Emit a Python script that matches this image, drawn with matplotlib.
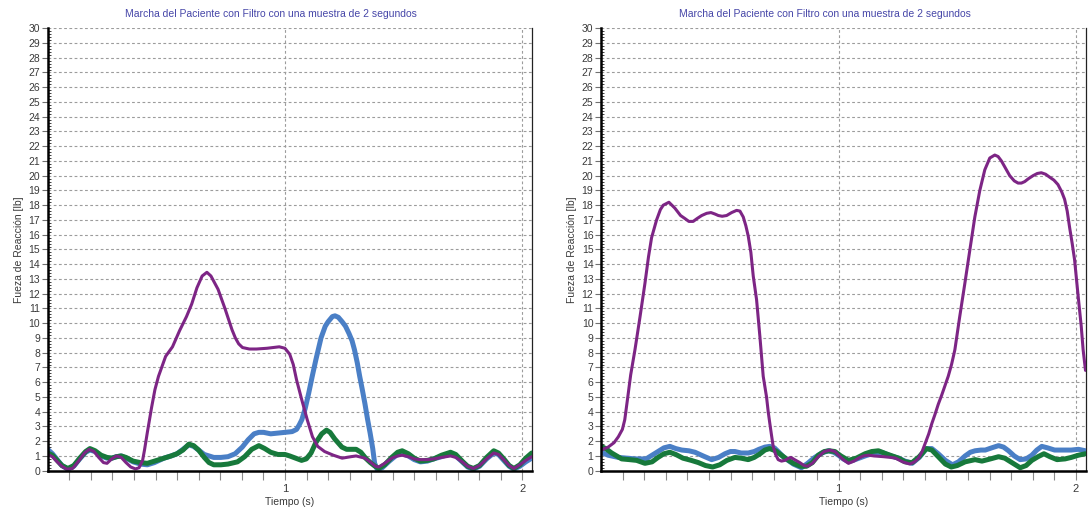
import numpy as np
import matplotlib
matplotlib.use("Agg")
import matplotlib.pyplot as plt
from matplotlib.ticker import FixedLocator, MultipleLocator

plt.rcParams['font.family'] = ['Liberation Sans', 'DejaVu Sans']

TITLE = "Marcha del Paciente con Filtro con una muestra de 2 segundos"
XLABEL = "Tiempo (s)"
YLABEL = "Fueza de Reacción [lb]"

# ---------------- left panel ----------------
left_blue_t = [0.00, 0.02, 0.04, 0.06, 0.085, 0.11, 0.135, 0.16, 0.178, 0.20, 0.225, 0.25, 0.27, 0.29,
               0.31, 0.33, 0.36, 0.39, 0.42, 0.45, 0.49, 0.52, 0.545, 0.57, 0.595, 0.615, 0.636, 0.66,
               0.68, 0.70, 0.73, 0.76, 0.79, 0.82, 0.845, 0.87, 0.89, 0.91, 0.94, 0.97, 1.00, 1.03,
               1.049, 1.06, 1.071, 1.085, 1.10, 1.115, 1.13, 1.152, 1.17, 1.182, 1.20, 1.211, 1.225,
               1.241, 1.255, 1.27, 1.283, 1.293, 1.305, 1.315, 1.326, 1.337, 1.348, 1.359, 1.37, 1.378,
               1.39, 1.41, 1.44, 1.47, 1.494, 1.52, 1.545, 1.571, 1.60, 1.627, 1.66, 1.698, 1.72, 1.747,
               1.77, 1.794, 1.82, 1.85, 1.88, 1.90, 1.925, 1.945, 1.965, 1.99, 2.015, 2.04]
left_blue_v = [1.45, 1.15, 0.75, 0.35, 0.10, 0.30, 0.80, 1.25, 1.40, 1.30, 1.00, 0.85, 0.85, 0.95,
               1.00, 0.85, 0.60, 0.45, 0.40, 0.55, 0.85, 1.00, 1.15, 1.45, 1.75, 1.65, 1.40, 1.10,
               1.00, 0.90, 0.90, 0.95, 1.15, 1.60, 2.10, 2.50, 2.60, 2.60, 2.50, 2.55, 2.60, 2.65,
               2.80, 3.10, 3.45, 4.20, 5.25, 6.40, 7.50, 9.00, 9.80, 10.10, 10.45, 10.50, 10.40,
               10.10, 9.80, 9.30, 8.80, 8.20, 7.30, 6.40, 5.50, 4.55, 3.50, 2.55, 1.50, 0.50,
               0.05, 0.20, 0.65, 1.05, 1.15, 1.00, 0.75, 0.60, 0.65, 0.80, 0.95, 1.15, 1.00, 0.60,
               0.25, 0.10, 0.30, 0.80, 1.20, 1.10, 0.65, 0.30, 0.10, 0.30, 0.60, 0.85]

left_green_t = [0.00, 0.02, 0.04, 0.06, 0.085, 0.11, 0.135, 0.16, 0.178, 0.20, 0.225, 0.25, 0.27, 0.29,
                0.31, 0.33, 0.36, 0.39, 0.42, 0.45, 0.49, 0.52, 0.545, 0.57, 0.595, 0.615, 0.636, 0.66,
                0.68, 0.70, 0.73, 0.76, 0.80, 0.83, 0.86, 0.89, 0.915, 0.94, 0.97, 1.00, 1.02, 1.045,
                1.07, 1.09, 1.11, 1.13, 1.155, 1.175, 1.19, 1.21, 1.24, 1.26, 1.28, 1.30, 1.32, 1.34,
                1.36, 1.38, 1.395, 1.42, 1.45, 1.475, 1.494, 1.52, 1.545, 1.571, 1.60, 1.627, 1.66,
                1.698, 1.72, 1.747, 1.77, 1.794, 1.82, 1.85, 1.88, 1.90, 1.925, 1.945, 1.965, 1.99,
                2.015, 2.04]
left_green_v = [1.20, 1.05, 0.70, 0.35, 0.15, 0.35, 0.85, 1.30, 1.50, 1.35, 1.05, 0.90, 0.85, 0.95,
                1.00, 0.90, 0.65, 0.55, 0.50, 0.65, 0.85, 1.00, 1.15, 1.40, 1.80, 1.70, 1.40, 0.90,
                0.55, 0.40, 0.40, 0.45, 0.60, 0.95, 1.45, 1.70, 1.50, 1.25, 1.10, 1.10, 1.00, 0.85,
                0.70, 0.80, 1.20, 1.90, 2.50, 2.75, 2.60, 2.15, 1.60, 1.45, 1.45, 1.45, 1.25, 0.85,
                0.55, 0.30, 0.15, 0.40, 0.90, 1.25, 1.35, 1.15, 0.85, 0.65, 0.70, 0.80, 1.05,
                1.25, 1.10, 0.65, 0.30, 0.15, 0.35, 0.90, 1.35, 1.20, 0.75, 0.35, 0.15, 0.40,
                0.85, 1.20]

left_purple_t = [0.00, 0.02, 0.04, 0.06, 0.08, 0.105, 0.13, 0.155, 0.175, 0.195, 0.215, 0.235, 0.25,
                 0.27, 0.29, 0.31, 0.33, 0.35, 0.37, 0.385, 0.40, 0.408, 0.42, 0.438, 0.452, 0.467,
                 0.497, 0.526, 0.556, 0.585, 0.607, 0.629, 0.651, 0.671, 0.688, 0.718, 0.747, 0.777,
                 0.791, 0.805, 0.821, 0.85, 0.88, 0.924, 0.976, 1.00, 1.02, 1.035, 1.049, 1.071, 1.094,
                 1.116, 1.138, 1.167, 1.204, 1.241, 1.278, 1.30, 1.337, 1.359, 1.381, 1.395, 1.42,
                 1.45, 1.475, 1.494, 1.52, 1.545, 1.571, 1.60, 1.627, 1.66, 1.698, 1.72, 1.747, 1.77,
                 1.794, 1.82, 1.85, 1.88, 1.90, 1.925, 1.945, 1.965, 1.99, 2.015, 2.04]
left_purple_v = [1.10, 0.95, 0.60, 0.30, 0.10, 0.15, 0.65, 1.20, 1.45, 1.30, 0.90, 0.55, 0.50,
                 0.80, 1.00, 0.90, 0.55, 0.25, 0.12, 0.20, 0.70, 1.40, 2.60, 4.30, 5.50, 6.40,
                 7.75, 8.40, 9.50, 10.45, 11.30, 12.40, 13.20, 13.45, 13.20, 12.30, 11.00, 9.55,
                 9.00, 8.60, 8.35, 8.25, 8.25, 8.30, 8.40, 8.30, 7.90, 7.20, 6.15, 4.80, 3.45,
                 2.30, 1.65, 1.30, 1.05, 0.85, 0.95, 1.00, 0.85, 0.60, 0.30, 0.25, 0.50,
                 0.85, 1.00, 1.05, 0.95, 0.80, 0.75, 0.75, 0.80, 0.90, 1.00, 0.90, 0.60, 0.30,
                 0.15, 0.35, 0.80, 1.20, 1.10, 0.70, 0.35, 0.15, 0.40, 0.70, 0.95]

# ---------------- right panel ----------------
right_blue_t = [0.00, 0.03, 0.073, 0.11, 0.143, 0.19, 0.215, 0.24, 0.265, 0.29, 0.315, 0.34, 0.37,
                0.396, 0.43, 0.466, 0.495, 0.522, 0.545, 0.564, 0.59, 0.62, 0.645, 0.665, 0.69, 0.71,
                0.73, 0.746, 0.77, 0.788, 0.81, 0.844, 0.87, 0.90, 0.93, 0.957, 0.98, 1.00, 1.02,
                1.042, 1.07, 1.112, 1.15, 1.182, 1.22, 1.253, 1.28, 1.31, 1.34, 1.37, 1.393, 1.42,
                1.45, 1.48, 1.505, 1.533, 1.555, 1.575, 1.60, 1.618, 1.645, 1.674, 1.695, 1.716,
                1.74, 1.765, 1.79, 1.814, 1.835, 1.856, 1.88, 1.91, 1.95, 1.98, 2.01, 2.04]
right_blue_v = [1.25, 1.05, 0.90, 0.85, 0.80, 0.80, 1.05, 1.30, 1.55, 1.65, 1.50, 1.40, 1.35,
                1.25, 1.00, 0.75, 0.90, 1.15, 1.30, 1.30, 1.20, 1.20, 1.30, 1.45, 1.60, 1.65,
                1.55, 1.30, 0.90, 0.70, 0.45, 0.20, 0.50, 0.90, 1.20, 1.35, 1.25, 1.05, 0.80,
                0.60, 0.75, 1.00, 1.20, 1.25, 1.00, 0.85, 0.65, 0.50, 0.90, 1.50, 1.50, 1.15,
                0.70, 0.40, 0.60, 1.00, 1.25, 1.35, 1.40, 1.40, 1.55, 1.70, 1.60, 1.35,
                1.00, 0.75, 0.80, 1.05, 1.40, 1.65, 1.55, 1.40, 1.40, 1.40, 1.45, 1.35]

right_green_t = [0.00, 0.02, 0.045, 0.087, 0.12, 0.15, 0.185, 0.215, 0.24, 0.265, 0.29, 0.315, 0.345,
                 0.38, 0.41, 0.44, 0.47, 0.50, 0.53, 0.564, 0.59, 0.62, 0.645, 0.67, 0.69, 0.71,
                 0.735, 0.76, 0.785, 0.81, 0.84, 0.865, 0.89, 0.915, 0.94, 0.96, 0.985, 1.01, 1.042,
                 1.075, 1.112, 1.14, 1.168, 1.20, 1.253, 1.28, 1.31, 1.34, 1.37, 1.393, 1.42, 1.45,
                 1.475, 1.50, 1.533, 1.575, 1.604, 1.64, 1.674, 1.70, 1.73, 1.765, 1.79, 1.814,
                 1.84, 1.865, 1.89, 1.92, 1.954, 1.98, 2.01, 2.04]
right_green_v = [1.65, 1.50, 1.20, 0.80, 0.75, 0.70, 0.50, 0.60, 0.90, 1.15, 1.25, 1.10, 0.85,
                 0.70, 0.55, 0.35, 0.25, 0.40, 0.70, 0.90, 0.85, 0.75, 0.90, 1.15, 1.40, 1.50,
                 1.35, 1.05, 0.75, 0.50, 0.30, 0.30, 0.55, 1.05, 1.30, 1.35, 1.30, 1.00, 0.70,
                 0.85, 1.15, 1.30, 1.35, 1.15, 0.85, 0.60, 0.55, 0.95, 1.50, 1.40, 0.95, 0.45,
                 0.25, 0.35, 0.60, 0.75, 0.65, 0.80, 0.95, 0.85, 0.55, 0.20, 0.35, 0.70,
                 0.95, 1.15, 0.95, 0.75, 0.80, 0.90, 1.05, 1.15]

right_purple_t = [0.00, 0.03, 0.055, 0.073, 0.09, 0.10, 0.112, 0.125, 0.143, 0.164, 0.185, 0.20,
                  0.213, 0.234, 0.25, 0.262, 0.286, 0.311, 0.335, 0.353, 0.37, 0.388, 0.405, 0.424,
                  0.445, 0.463, 0.48, 0.494, 0.51, 0.529, 0.55, 0.571, 0.585, 0.599, 0.61, 0.62,
                  0.631, 0.641, 0.655, 0.669, 0.683, 0.697, 0.704, 0.71, 0.718, 0.725, 0.735, 0.746,
                  0.76, 0.774, 0.79, 0.80, 0.815, 0.837, 0.855, 0.87, 0.89, 0.915, 0.94, 0.964,
                  0.985, 1.00, 1.02, 1.042, 1.065, 1.084, 1.105, 1.126, 1.15, 1.19, 1.22, 1.24,
                  1.27, 1.30, 1.32, 1.337, 1.352, 1.365, 1.38, 1.393, 1.407, 1.42, 1.434, 1.448,
                  1.462, 1.476, 1.49, 1.51, 1.532, 1.553, 1.574, 1.595, 1.616, 1.637, 1.658, 1.672,
                  1.686, 1.70, 1.721, 1.74, 1.756, 1.77, 1.784, 1.80, 1.819, 1.837, 1.854, 1.872,
                  1.889, 1.907, 1.924, 1.94, 1.952, 1.963, 1.973, 1.984, 1.994, 2.008, 2.022, 2.03,
                  2.04]
right_purple_v = [1.40, 1.60, 1.90, 2.30, 2.80, 3.45, 4.90, 6.50, 8.20, 10.40, 12.70, 14.50,
                  15.80, 17.00, 17.70, 18.00, 18.20, 17.80, 17.30, 17.10, 16.90, 16.90, 17.10, 17.30,
                  17.45, 17.50, 17.40, 17.30, 17.25, 17.30, 17.50, 17.65, 17.60, 17.20, 16.60, 15.90,
                  14.80, 13.20, 11.60, 9.10, 6.40, 5.00, 4.00, 3.30, 2.40, 1.65, 1.10, 0.75,
                  0.65, 0.70, 0.85, 0.90, 0.75, 0.55, 0.35, 0.30, 0.50, 0.95, 1.30, 1.40,
                  1.30, 1.05, 0.75, 0.50, 0.65, 0.85, 1.00, 1.05, 1.00, 0.95, 0.90, 0.85,
                  0.60, 0.45, 0.60, 0.85, 1.30, 1.85, 2.50, 3.20, 3.85, 4.50, 5.10, 5.75,
                  6.40, 7.20, 8.20, 10.40, 12.70, 14.96, 17.20, 19.00, 20.40, 21.20, 21.40, 21.30,
                  21.00, 20.60, 20.00, 19.65, 19.50, 19.50, 19.60, 19.80, 20.00, 20.15, 20.20, 20.10,
                  19.90, 19.70, 19.40, 18.90, 18.40, 17.60, 16.50, 15.40, 14.30, 12.00, 9.80, 8.20,
                  6.80]

Y_TICKS = list(range(0, 31))
X_TICK_LABELS = ["1", "2"]

BLUE = "#4a7fc6"
GREEN = "#17793b"
PURPLE = "#7d2585"
GRID = "#9c9c9c"
TEXT = "#3a3a3a"
TITLE_COLOR = "#4646a8"

W, H = 1092, 527
fig = plt.figure(figsize=(W / 100, H / 100), dpi=100)

y0_px, y1_px = 470.7, 28.2
panels = [
    (47.7, 531.7, 271,
     (left_blue_t, left_blue_v), (left_green_t, left_green_v), (left_purple_t, left_purple_v)),
    (601.0, 1085.5, 825,
     (right_blue_t, right_blue_v), (right_green_t, right_green_v), (right_purple_t, right_purple_v)),
]

for x0_px, x1_px, title_x, blue, green, purple in panels:
    ax = fig.add_axes([x0_px / W, 1 - y0_px / H, (x1_px - x0_px) / W, (y0_px - y1_px) / H])
    ax.set_xlim(0, 2.04)
    ax.set_ylim(0, 30)

    ax.plot(*blue, color=BLUE, lw=3.6, solid_capstyle='round', solid_joinstyle='round', zorder=3)
    ax.plot(*green, color=GREEN, lw=3.6, solid_capstyle='round', solid_joinstyle='round', zorder=4)
    ax.plot(*purple, color=PURPLE, lw=2.2, solid_capstyle='round', solid_joinstyle='round', zorder=5)

    # y axis
    ax.yaxis.set_major_locator(FixedLocator(Y_TICKS))
    ax.yaxis.set_minor_locator(MultipleLocator(0.2))
    ax.tick_params(axis='y', which='major', direction='out', length=4, width=0.8,
                   color='#707070', labelsize=7.5, labelcolor=TEXT, pad=1.5)
    ax.tick_params(axis='y', which='minor', direction='in', length=2, width=0.6, color='#202020')

    # x axis
    ax.xaxis.set_major_locator(FixedLocator([1, 2]))
    ax.set_xticklabels(X_TICK_LABELS)
    ax.xaxis.set_minor_locator(FixedLocator([k / 11 for k in range(1, 23) if k not in (11, 22)]))
    ax.tick_params(axis='x', which='both', direction='out', length=6.5, width=0.8,
                   color='#8a8a8a', labelsize=8, labelcolor=TEXT, pad=3)

    ax.grid(True, which='major', axis='both', color=GRID, lw=0.8, linestyle=(0, (2.5, 2.2)))
    ax.set_axisbelow(True)

    for side in ('left', 'bottom'):
        ax.spines[side].set_color('black')
        ax.spines[side].set_linewidth(1.8)
        ax.spines[side].set_zorder(6)
    ax.spines['right'].set_color('#222222')
    ax.spines['right'].set_linewidth(0.9)
    ax.spines['top'].set_visible(False)

    ax.set_xlabel(XLABEL, fontsize=7.5, color=TEXT, labelpad=2)
    ax.set_ylabel(YLABEL, fontsize=7.5, color=TEXT, labelpad=3)

    fig.text(title_x / W, 1 - 14 / H, TITLE, ha='center', va='center',
             fontsize=7.5, color=TITLE_COLOR)

fig.savefig("out.png", dpi=100)
